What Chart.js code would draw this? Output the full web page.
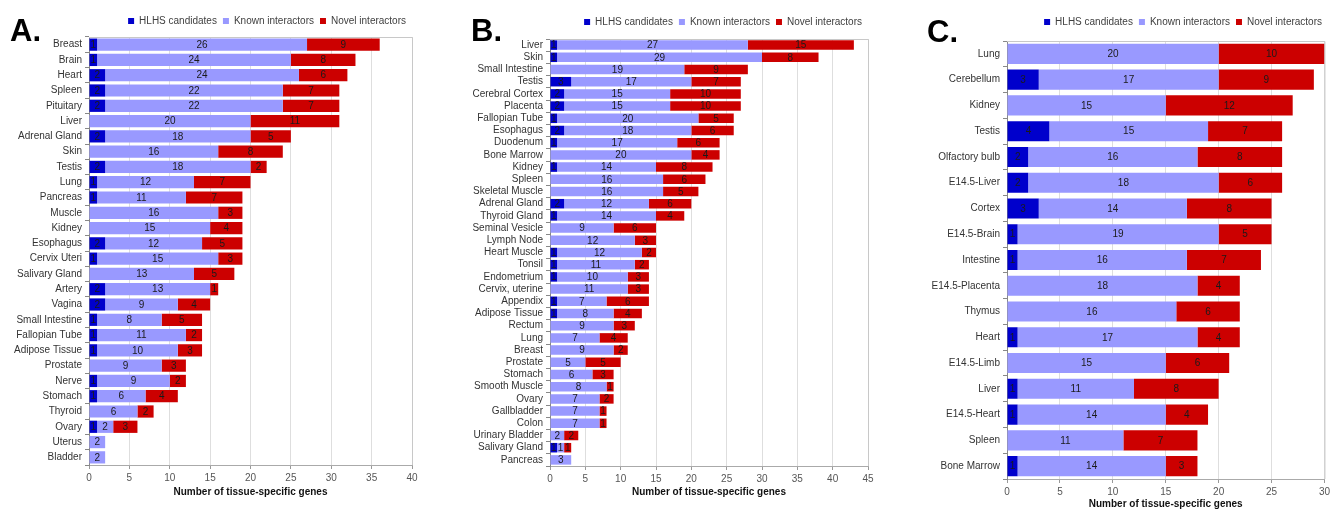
<!DOCTYPE html>
<html><head><meta charset="utf-8">
<script src="https://cdn.jsdelivr.net/npm/chart.js@4.4.1/dist/chart.umd.min.js"></script>
<style>
body{margin:0;width:1333px;height:510px;background:#fff;position:relative;overflow:hidden}
canvas{position:absolute;top:0}
.pl{position:absolute;font:bold 31px "Liberation Sans",Arial,sans-serif;color:#000;line-height:31px}
</style></head><body>
<canvas id="ca" width="430" height="510" style="left:0px"></canvas>
<canvas id="cb" width="440" height="510" style="left:440px"></canvas>
<canvas id="cc" width="443" height="510" style="left:890px"></canvas>
<div class="pl" style="left:10px;top:15px">A.</div>
<div class="pl" style="left:471px;top:15px">B.</div>
<div class="pl" style="left:927px;top:16px">C.</div>
<script>
const seriesNames = ['HLHS candidates', 'Known interactors', 'Novel interactors'];
const axisTitle = 'Number of tissue-specific genes';

const tissuesA = ['Breast','Brain','Heart','Spleen','Pituitary','Liver','Adrenal Gland','Skin','Testis','Lung','Pancreas','Muscle','Kidney','Esophagus','Cervix Uteri','Salivary Gland','Artery','Vagina','Small Intestine','Fallopian Tube','Adipose Tissue','Prostate','Nerve','Stomach','Thyroid','Ovary','Uterus','Bladder'];
const hlhsA  = [1,1,2,2,2,0,2,0,2,1,1,0,0,2,1,0,2,2,1,1,1,0,1,1,0,1,0,0];
const knownA = [26,24,24,22,22,20,18,16,18,12,11,16,15,12,15,13,13,9,8,11,10,9,9,6,6,2,2,2];
const novelA = [9,8,6,7,7,11,5,8,2,7,7,3,4,5,3,5,1,4,5,2,3,3,2,4,2,3,0,0];
const xMaxA = 40;

const tissuesB = ['Liver','Skin','Small Intestine','Testis','Cerebral Cortex','Placenta','Fallopian Tube','Esophagus','Duodenum','Bone Marrow','Kidney','Spleen','Skeletal Muscle','Adrenal Gland','Thyroid Gland','Seminal Vesicle','Lymph Node','Heart Muscle','Tonsil','Endometrium','Cervix, uterine','Appendix','Adipose Tissue','Rectum','Lung','Breast','Prostate','Stomach','Smooth Muscle','Ovary','Gallbladder','Colon','Urinary Bladder','Salivary Gland','Pancreas'];
const hlhsB  = [1,1,0,3,2,2,1,2,1,0,1,0,0,2,1,0,0,1,1,1,0,1,1,0,0,0,0,0,0,0,0,0,0,1,0];
const knownB = [27,29,19,17,15,15,20,18,17,20,14,16,16,12,14,9,12,12,11,10,11,7,8,9,7,9,5,6,8,7,7,7,2,1,3];
const novelB = [15,8,9,7,10,10,5,6,6,4,8,6,5,6,4,6,3,2,2,3,3,6,4,3,4,2,5,3,1,2,1,1,2,1,0];
const xMaxB = 45;

const tissuesC = ['Lung','Cerebellum','Kidney','Testis','Olfactory bulb','E14.5-Liver','Cortex','E14.5-Brain','Intestine','E14.5-Placenta','Thymus','Heart','E14.5-Limb','Liver','E14.5-Heart','Spleen','Bone Marrow'];
const hlhsC  = [0,3,0,4,2,2,3,1,1,0,0,1,0,1,1,0,1];
const knownC = [20,17,15,15,16,18,14,19,16,18,16,17,15,11,14,11,14];
const novelC = [10,9,12,7,8,6,8,5,7,4,6,4,6,8,4,7,3];
const xMaxC = 30;
const xStep = 5;

const colors = ['#0000CC', '#9999FF', '#CC0000'];
const FONT = '"Liberation Sans", Arial, sans-serif';

const valueLabels = {
  id: 'valueLabels',
  afterDatasetsDraw(chart) {
    const ctx = chart.ctx;
    ctx.save();
    ctx.font = '10px ' + FONT;
    ctx.fillStyle = '#1a1a1a';
    ctx.textAlign = 'center';
    ctx.textBaseline = 'middle';
    chart.data.datasets.forEach((ds, i) => {
      const meta = chart.getDatasetMeta(i);
      meta.data.forEach((bar, j) => {
        const v = ds.data[j];
        if (!v) return;
        const p = bar.getProps(['x', 'y', 'base'], true);
        ctx.fillText(String(v), (p.x + p.base) / 2, p.y + 0.5);
      });
    });
    ctx.restore();
  }
};
const frame = {
  id: 'frame',
  beforeDatasetsDraw(chart) {
    const a = chart.chartArea, ctx = chart.ctx;
    ctx.save();
    ctx.strokeStyle = '#c8c8c8';
    ctx.lineWidth = 1;
    ctx.beginPath();
    ctx.moveTo(a.left, a.top + 0.5);
    ctx.lineTo(a.right + 0.5, a.top + 0.5);
    ctx.lineTo(a.right + 0.5, a.bottom);
    ctx.stroke();
    ctx.restore();
  }
};

function makeChart(id, labels, h, k, n, xMax, cfg) {
  const data = [h, k, n];
  return new Chart(document.getElementById(id), {
    type: 'bar',
    data: {
      labels: labels,
      datasets: seriesNames.map((s, i) => ({
        label: s, data: data[i], backgroundColor: colors[i],
        borderWidth: 0, barPercentage: cfg.barPct, categoryPercentage: 1
      }))
    },
    plugins: [frame, valueLabels],
    options: {
      indexAxis: 'y',
      responsive: false,
      animation: false,
      events: [],
      layout: { padding: { left: 0, right: cfg.padRight, top: cfg.padTop, bottom: 0 } },
      plugins: {
        tooltip: { enabled: false },
        legend: {
          position: 'top', align: 'end',
          labels: { boxWidth: 6, boxHeight: 6, padding: 6, color: '#404040',
                    font: { size: 10, family: FONT } }
        }
      },
      scales: {
        x: {
          stacked: true, min: 0, max: xMax,
          ticks: { stepSize: xStep, color: '#555', padding: 3, font: { size: 10, family: FONT }, maxRotation: 0 },
          grid: { color: '#dedede', tickLength: 4, tickColor: '#999' },
          border: { color: '#aaa' },
          title: { display: true, text: axisTitle, color: '#111', font: { size: 10, weight: 'bold', family: FONT },
                   padding: { top: 4, bottom: cfg.titlePadB } },
          afterFit(s) { s.height = cfg.xHeight; }
        },
        gap: {
          type: 'linear', position: 'top', display: true,
          grid: { display: false }, border: { display: false }, ticks: { display: false },
          afterFit(s) { s.height = cfg.gap; }
        },
        y: {
          stacked: true,
          ticks: { autoSkip: false, color: '#333', padding: 3, font: { size: 10, family: FONT } },
          grid: { drawOnChartArea: false, tickLength: 4, color: '#888', offset: true },
          border: { color: '#888' },
          afterFit(s) { s.width = cfg.yWidth; }
        }
      }
    }
  });
}

makeChart('ca', tissuesA, hlhsA, knownA, novelA, xMaxA,
  { barPct: 0.8, padRight: 18, padTop: 10, gap: 1, xHeight: 45, titlePadB: 12, yWidth: 89 });
makeChart('cb', tissuesB, hlhsB, knownB, novelB, xMaxB,
  { barPct: 0.78, padRight: 12, padTop: 11, gap: 2, xHeight: 44, titlePadB: 12, yWidth: 110 });
makeChart('cc', tissuesC, hlhsC, knownC, novelC, xMaxC,
  { barPct: 0.78, padRight: 5, padTop: 11, gap: 4, xHeight: 31, titlePadB: 0, yWidth: 117 });
</script>
</body></html>
